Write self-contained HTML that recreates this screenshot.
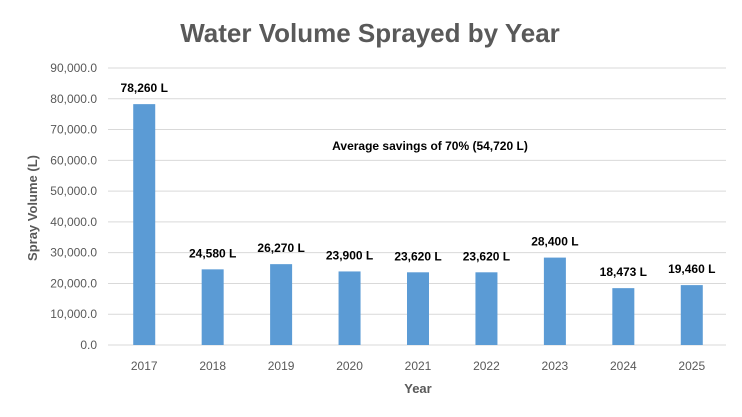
<!DOCTYPE html>
<html><head><meta charset="utf-8"><style>
body{margin:0;background:#fff;}
svg{display:block;font-family:"Liberation Sans",sans-serif;}
</style></head><body>
<svg id="chart" width="742" height="417">
<text x="370" y="42" text-anchor="middle" font-size="26" font-weight="bold" fill="#595959">Water Volume Sprayed by Year</text>
<text transform="translate(37,208) rotate(-90)" text-anchor="middle" font-size="13" font-weight="bold" fill="#595959">Spray Volume (L)</text>
<text x="418" y="393" text-anchor="middle" font-size="13" font-weight="bold" fill="#595959">Year</text>
<text x="430" y="150" text-anchor="middle" font-size="12" font-weight="bold" fill="#000">Average savings of 70% (54,720 L)</text>
<g id="grid"></g><g id="bars"></g>
</svg>
<script>
const categories=["2017","2018","2019","2020","2021","2022","2023","2024","2025"];
const values=[78260,24580,26270,23900,23620,23620,28400,18473,19460];
const valueLabels=["78,260 L","24,580 L","26,270 L","23,900 L","23,620 L","23,620 L","28,400 L","18,473 L","19,460 L"];
const yTicks=[0,10000,20000,30000,40000,50000,60000,70000,80000,90000];
const NS="http://www.w3.org/2000/svg";
const y0=345,yTop=68,yMax=90000,xL=110,xR=726;
const y=v=>y0-(v/yMax)*(y0-yTop);
const step=(xR-xL)/categories.length;
const x=i=>xL+step*(i+0.5);
function mk(t,a,p){const e=document.createElementNS(NS,t);for(const k in a)e.setAttribute(k,a[k]);p.appendChild(e);return e;}
const g=document.getElementById('grid'),b=document.getElementById('bars');
yTicks.forEach(v=>{
const l=mk('line',{x1:108,x2:xR,y1:y(v),y2:y(v),stroke:'#d9d9d9','stroke-width':1},g);


const t=mk('text',{x:97,y:y(v)+4,'text-anchor':'end','font-size':12,fill:'#595959'},g);
t.textContent=v.toLocaleString('en-US',{minimumFractionDigits:1,maximumFractionDigits:1});


});
categories.forEach((c,i)=>{
const r=mk('rect',{x:x(i)-11,y:y(values[i]),width:22,height:y0-y(values[i]),fill:'#5b9bd5'},b);


const vl=mk('text',{x:x(i),y:y(values[i])-12,'text-anchor':'middle','font-size':12,'font-weight':'bold',fill:'#000'},b);
vl.textContent=valueLabels[i];


const xl=mk('text',{x:x(i),y:370,'text-anchor':'middle','font-size':12,fill:'#595959'},b);
xl.textContent=c;


});
</script>
</body></html>
